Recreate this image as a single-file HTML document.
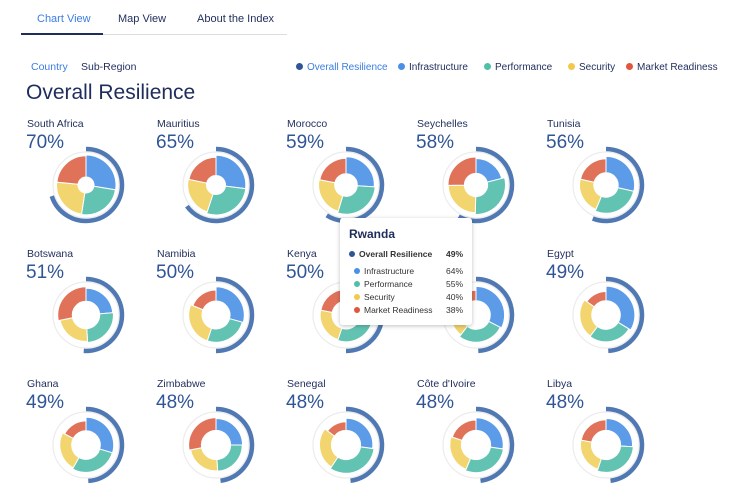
<!DOCTYPE html>
<html><head><meta charset="utf-8"><style>
body{margin:0;width:734px;height:500px;background:#fff;font-family:"Liberation Sans",sans-serif;overflow:hidden;position:relative}
.t{position:absolute;font-size:11px;color:#1f2d5c;white-space:nowrap}
.name{position:absolute;font-size:10.5px;color:#1f2d5c}
.pct{position:absolute;font-size:19px;color:#2f5597}
.dot{display:inline-block;width:7px;height:7px;border-radius:50%;margin-right:4px;vertical-align:0}
#tip{position:absolute;left:340px;top:218px;width:132px;height:107px;background:#fff;box-shadow:0 1px 4px rgba(0,0,0,.25);border-radius:3px;font-size:8.5px;color:#333}
#tip div{position:absolute;white-space:nowrap}
</style></head><body>
<div class="t" style="left:37px;top:13px;color:#3b7de0">Chart View</div>
<div class="t" style="left:118px;top:13px">Map View</div>
<div class="t" style="left:197px;top:13px">About the Index</div>
<div style="position:absolute;left:21px;top:34px;width:266px;height:1px;background:#ddd"></div>
<div style="position:absolute;left:21px;top:33px;width:82px;height:2px;background:#1f2d5c"></div>
<div class="t" style="left:31px;top:61px;font-size:10.5px;color:#3b7de0">Country</div>
<div class="t" style="left:81px;top:61px;font-size:10.5px">Sub-Region</div>
<div class="t" style="left:296px;top:62px;font-size:10px"><span class="dot" style="background:#2f5597"></span><span style="color:#3b7de0">Overall Resilience</span></div>
<div class="t" style="left:398px;top:62px;font-size:10px"><span class="dot" style="background:#4a8fe8"></span>Infrastructure</div>
<div class="t" style="left:484px;top:62px;font-size:10px"><span class="dot" style="background:#4fbfa8"></span>Performance</div>
<div class="t" style="left:568px;top:62px;font-size:10px"><span class="dot" style="background:#f2c94c"></span>Security</div>
<div class="t" style="left:626px;top:62px;font-size:10px"><span class="dot" style="background:#e0573e"></span>Market Readiness</div>
<div class="t" style="left:26px;top:81px;font-size:21px">Overall Resilience</div>
<svg id="s" width="734" height="500" style="position:absolute;left:0;top:0"></svg>
<div id="labels"></div>
<div id="tip">
<div style="left:9px;top:9px;font-size:12px;font-weight:bold;color:#1f2d5c">Rwanda</div>
<div style="left:9px;top:31px;font-weight:bold"><span class="dot" style="background:#2f5597;width:6px;height:6px"></span>Overall Resilience</div>
<div style="right:9px;top:31px;font-weight:bold">49%</div>
<div style="left:14px;top:48px"><span class="dot" style="background:#4a8fe8;width:6px;height:6px"></span>Infrastructure</div><div style="right:9px;top:48px">64%</div>
<div style="left:14px;top:61px"><span class="dot" style="background:#4fbfa8;width:6px;height:6px"></span>Performance</div><div style="right:9px;top:61px">55%</div>
<div style="left:14px;top:74px"><span class="dot" style="background:#f2c94c;width:6px;height:6px"></span>Security</div><div style="right:9px;top:74px">40%</div>
<div style="left:14px;top:87px"><span class="dot" style="background:#e0573e;width:6px;height:6px"></span>Market Readiness</div><div style="right:9px;top:87px">38%</div>
</div>
<script>
var D=[["South Africa",70,[80,72,70,68]],["Mauritius",65,[72,75,62,58]],["Morocco",59,[62,68,56,52]],["Seychelles",58,[50,70,58,60]],["Tunisia",56,[64,62,50,48]],
["Botswana",51,[52,56,50,62]],["Namibia",50,[62,55,55,40]],["Kenya",50,[58,52,46,44]],["Rwanda",49,[64,55,40,38]],["Egypt",49,[66,52,48,30]],
["Ghana",49,[58,56,48,34]],["Zimbabwe",48,[50,48,46,56]],["Senegal",48,[52,62,50,28]],["Côte d'Ivoire",48,[55,58,48,40]],["Libya",48,[50,56,44,42]]];
var C=["#5b9be8","#62c3b3","#f2d56f","#e07259"];
var s="",L="";
function p(cx,cy,r,a){return [cx+r*Math.sin(a),cy-r*Math.cos(a)];}
D.forEach(function(d,i){
 var col=i%5,row=Math.floor(i/5),cx=86+col*130,cy=185+row*130;
 L+='<div class="name" style="left:'+(27+col*130)+'px;top:'+(118+row*130)+'px">'+d[0]+'</div>';
 L+='<div class="pct" style="left:'+(26+col*130)+'px;top:'+(132+row*130)+'px">'+d[1]+'%</div>';
 s+='<circle cx="'+cx+'" cy="'+cy+'" r="33" fill="none" stroke="#ececec" stroke-width="1.2"/>';
 var o=d[1]/100,a1=o*2*Math.PI,e=p(cx,cy,36,a1);
 s+='<path d="M'+cx+' '+(cy-36)+' A36 36 0 '+(o>0.5?1:0)+' 1 '+e[0]+' '+e[1]+'" fill="none" stroke="#5079b3" stroke-width="4.5"/>';
 var ri=8+(70-d[1])*0.3,sum=d[2].reduce(function(a,b){return a+b}),a=0;
 d[2].forEach(function(v,k){
  var da=v/sum*2*Math.PI,ro=Math.min(30,19+v*0.15),b=a+da;
  var P1=p(cx,cy,ri,a),P2=p(cx,cy,ro,a),P3=p(cx,cy,ro,b),P4=p(cx,cy,ri,b),lg=da>Math.PI?1:0;
  s+='<path d="M'+P1+' L'+P2+' A'+ro+' '+ro+' 0 '+lg+' 1 '+P3+' L'+P4+' A'+ri+' '+ri+' 0 '+lg+' 0 '+P1+'Z" fill="'+C[k]+'" stroke="#fff" stroke-width="1"/>';
  a=b;});
});
document.getElementById("s").innerHTML=s;document.getElementById("labels").innerHTML=L;
</script>
</body></html>
